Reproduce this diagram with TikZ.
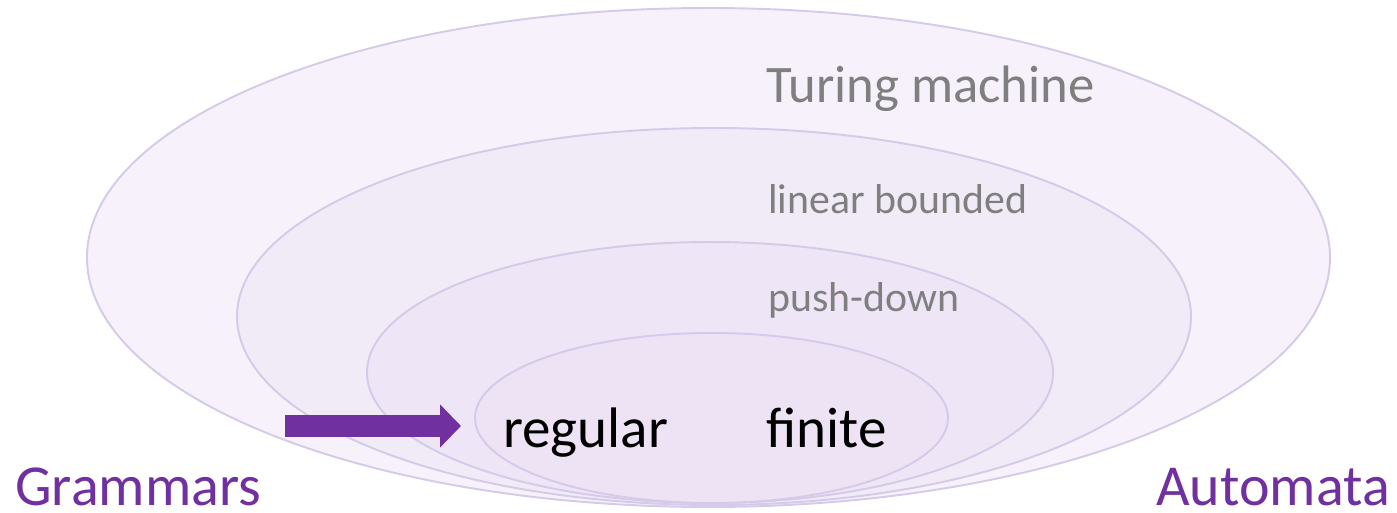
\documentclass[tikz,border=0pt]{standalone}
\usepackage{xcolor}
\usepackage{fontspec}
\setmainfont{Carlito}
\usepackage{tikz}
\usetikzlibrary{calc}
\usetikzlibrary{arrows.meta}
\definecolor{hullline}{HTML}{D6CAE9}
\definecolor{levA}{HTML}{F6F1FB}
\definecolor{levB}{HTML}{F1EBF8}
\definecolor{levC}{HTML}{EEE6F6}
\definecolor{levD}{HTML}{EEE3F5}
\definecolor{graytext}{HTML}{7F7F7F}
\definecolor{violet}{HTML}{7030A0}
\tikzset{hull/.style={draw=hullline, line width=1.1pt}}
\tikzset{machine/.style={text=graytext, anchor=base west, inner sep=0}}
\tikzset{side/.style={text=violet, anchor=base west, inner sep=0, text depth=0pt, font=\fontsize{33}{38}\selectfont}}

\begin{document}
\begin{tikzpicture} [x=0.02cm, y=-0.02cm]
\useasboundingbox (0,0) rectangle (1397,513);
% nested classes, all touching at the bottom
\draw[hull, fill=levA] (708.5,257.5) ellipse [x radius=621.5, y radius=249.5];
\draw[hull, fill=levB] (714,316.5) ellipse [x radius=477, y radius=188.5];
\draw[hull, fill=levC] (710,372.5) ellipse [x radius=343, y radius=130.5];
\draw[hull, fill=levD] (711.5,418) ellipse [x radius=236.5, y radius=85];
\node[machine, font=\fontsize{30}{36}\selectfont] (tm) at (766,103) {Turing machine};
\node[machine, font=\fontsize{23.8}{28}\selectfont] (lba) at (768,214) {linear bounded};
\node[machine, font=\fontsize{23.8}{28}\selectfont] (pda) at (768,312) {push-down};
\node[anchor=base west, inner sep=0, font=\fontsize{32.5}{38}\selectfont] (reg) at (503,447) {regular};
\node[anchor=base west, inner sep=0, font=\fontsize{32.5}{38}\selectfont] (fin) at (766,447) {finite};
\node[side] (gram) at (15,505) {Grammars};
\node[side] (auto) at (1156,505) {Automata};
% the block arrow pointing into the regular class
\coordinate (feed) at (285,426);
\coordinate (feedtip) at (461,426);
\draw[violet, line width=0.44cm, -{Triangle[length=0.42cm, width=0.84cm]}] (feed) -- (feedtip);
\end{tikzpicture}
\end{document}
